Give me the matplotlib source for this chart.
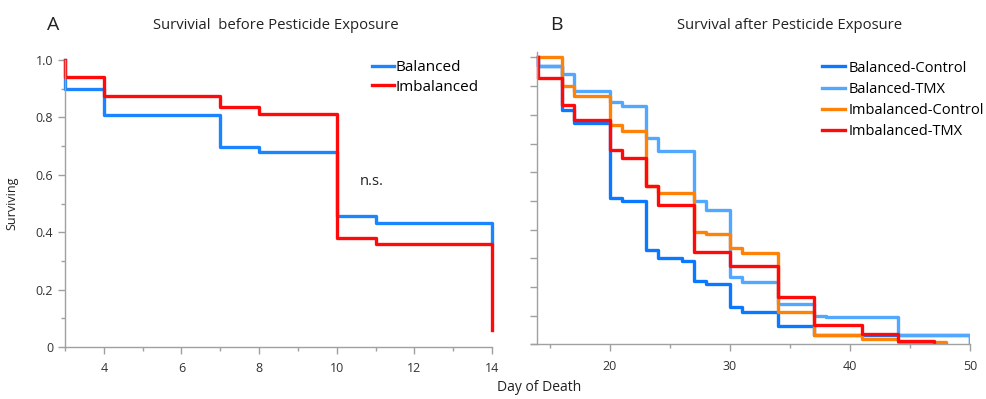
import matplotlib
matplotlib.use("Agg")
import matplotlib.pyplot as plt
from matplotlib.ticker import MultipleLocator

plt.rcParams['font.family'] = ['Open Sans', 'DejaVu Sans']

# panel A: before exposure (Kaplan-Meier steps)
a_bal_day = [3, 3, 4, 7, 8, 10, 11, 14]
a_bal_surv = [1.0, 0.898, 0.808, 0.698, 0.680, 0.457, 0.433, 0.360]
a_imb_day = [3, 3, 4, 7, 8, 10, 11, 14]
a_imb_surv = [1.0, 0.940, 0.876, 0.837, 0.813, 0.381, 0.360, 0.059]

# panel B: after exposure
bc_day = [14, 14, 16, 17, 20, 21, 23, 24, 26, 27, 28, 30, 31, 34, 37, 50]
bc_surv = [1.0, 0.97, 0.816, 0.772, 0.510, 0.500, 0.329, 0.302, 0.290, 0.222, 0.209, 0.131, 0.114, 0.065, 0.032, 0.0]
bt_day = [14, 14, 16, 17, 20, 21, 23, 24, 27, 28, 30, 31, 34, 37, 38, 44, 50]
bt_surv = [1.0, 0.97, 0.944, 0.884, 0.845, 0.830, 0.718, 0.675, 0.500, 0.468, 0.236, 0.216, 0.139, 0.100, 0.094, 0.032, 0.0]
ic_day = [14, 16, 17, 20, 21, 23, 24, 27, 28, 30, 31, 34, 37, 41, 44, 48]
ic_surv = [1.0, 0.901, 0.866, 0.764, 0.744, 0.553, 0.526, 0.392, 0.383, 0.337, 0.317, 0.111, 0.032, 0.018, 0.007, 0.0]
it_day = [14, 14, 16, 17, 20, 21, 23, 24, 27, 30, 34, 37, 41, 44, 47]
it_surv = [1.0, 0.930, 0.834, 0.781, 0.679, 0.648, 0.553, 0.485, 0.323, 0.273, 0.166, 0.069, 0.037, 0.011, 0.0]

a_yticks = [0, 0.2, 0.4, 0.6, 0.8, 1.0]
a_ylabels = ['0', '0.2', '0.4', '0.6', '0.8', '1.0']

spine_c = '#a0a0a0'
txt_c = '#222222'
lw = 2.4

fig = plt.figure(figsize=(9.87, 3.99), dpi=100)

# ---- Panel A ----
ax1 = fig.add_axes([0.0659, 0.1303, 0.4326, 0.7193])
ax1.step(a_bal_day, a_bal_surv, where='post', color='#1a85ff', lw=lw, clip_on=False, label='Balanced')
ax1.step(a_imb_day, a_imb_surv, where='post', color='#ff0a0a', lw=lw, clip_on=False, label='Imbalanced')
ax1.set_xlim(3, 14)
ax1.set_ylim(0, 1.0)
ax1.set_xticks([4, 6, 8, 10, 12, 14])
ax1.xaxis.set_minor_locator(MultipleLocator(1))
ax1.set_yticks(a_yticks)
ax1.set_yticklabels(a_ylabels)
ax1.yaxis.set_minor_locator(MultipleLocator(0.1))
ax1.set_ylabel('Surviving', fontsize=9, color=txt_c)
ax1.yaxis.set_label_coords(-0.11, 0.5)
ax1.text(10.58, 0.576, 'n.s.', fontsize=10.5, color=txt_c, va='center', ha='left')
ax1.legend(loc='upper left', bbox_to_anchor=(0.704, 1.02), frameon=False, fontsize=11,
           handlelength=1.44, handletextpad=0.13, labelspacing=0.28, borderaxespad=0)

# ---- Panel B ----
ax2 = fig.add_axes([0.5378, 0.137, 0.445, 0.7333])
ax2.step(bc_day, bc_surv, where='post', color='#0a78ff', lw=lw, label='Balanced-Control')
ax2.step(bt_day, bt_surv, where='post', color='#52a8ff', lw=lw, label='Balanced-TMX')
ax2.step(ic_day, ic_surv, where='post', color='#ff8208', lw=lw, label='Imbalanced-Control')
ax2.step(it_day, it_surv, where='post', color='#ff0a0a', lw=lw, label='Imbalanced-TMX')
ax2.set_xlim(13.4, 50)
ax2.set_ylim(0, 1.02)
ax2.spines['left'].set_position(('data', 13.9))
ax2.set_xticks([20, 30, 40, 50])
ax2.xaxis.set_minor_locator(MultipleLocator(5))
ax2.set_yticks([i / 10 for i in range(11)])
ax2.set_yticklabels([])
ax2.legend(loc='upper left', bbox_to_anchor=(0.65, 0.99), frameon=False, fontsize=10.5,
           handlelength=1.55, handletextpad=0.27, labelspacing=0.42, borderaxespad=0)

for ax in (ax1, ax2):
    for s in ('top', 'right'):
        ax.spines[s].set_visible(False)
    for s in ('left', 'bottom'):
        ax.spines[s].set_color(spine_c)
        ax.spines[s].set_linewidth(1.0)
    ax.tick_params(which='major', length=5, width=1, color=spine_c, labelsize=9, labelcolor='#333333')
    ax.tick_params(which='minor', length=3, width=1, color=spine_c)
    ax.tick_params(axis='x', pad=6)

fig.text(0.546, 0.01, 'Day of Death', fontsize=10, color=txt_c, ha='center', va='bottom')
fig.text(0.0537, 0.937, 'A', fontsize=14, color=txt_c, ha='center', va='center')
fig.text(0.279, 0.937, 'Survivial  before Pesticide Exposure', fontsize=10.7, color=txt_c, ha='center', va='center')
fig.text(0.5633, 0.937, 'B', fontsize=14, color=txt_c, ha='center', va='center')
fig.text(0.80, 0.937, 'Survival after Pesticide Exposure', fontsize=10.7, color=txt_c, ha='center', va='center')

fig.savefig('out.png', dpi=100)
